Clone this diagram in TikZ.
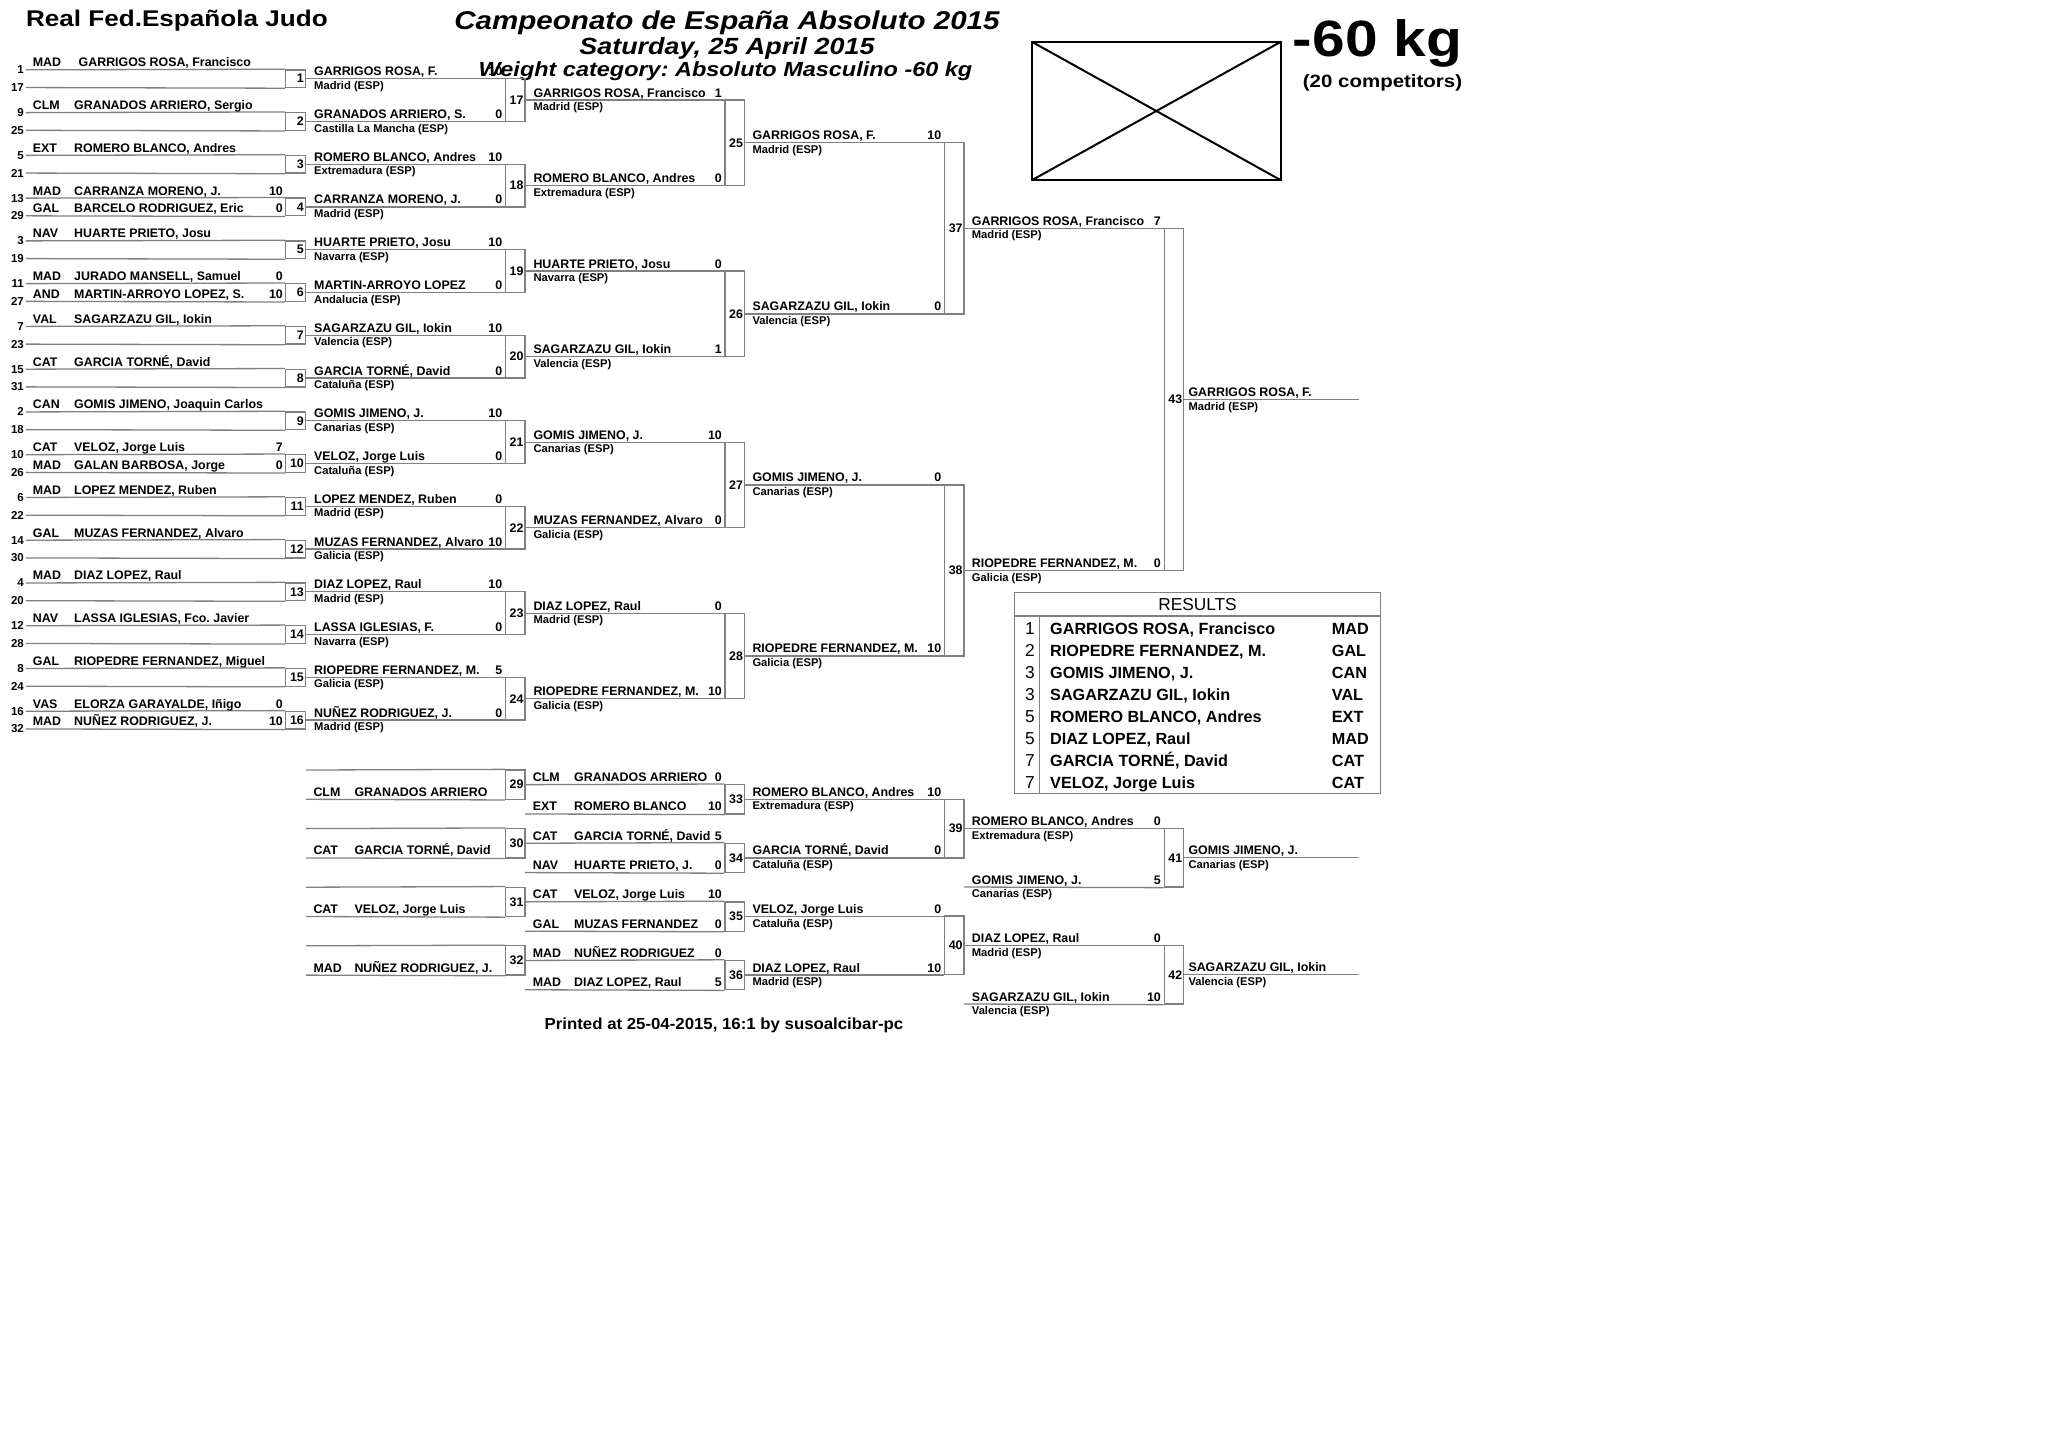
\documentclass[tikz,border=0pt]{standalone}
\usepackage{fontspec}
\setmainfont{Liberation Sans}
\usetikzlibrary{calc}
\definecolor{lgray}{RGB}{128,128,128}
\newcommand{\hsc}[2]{\scalebox{#1}[1]{#2}}
\frenchspacing
\begin{document}
\frenchspacing
\begin{tikzpicture}[x=1pt,y=-1pt,
  ln/.style={draw=lgray,line width=1.3pt},
  mbox/.style={draw=lgray,line width=1.3pt,minimum width=19.5pt,inner sep=0pt,text width=16.5pt,align=right,font=\fontsize{12.4}{13}\selectfont\bfseries},
  nm/.style={anchor=base west,inner sep=0pt,font=\fontsize{12.4}{13}\selectfont\bfseries},
  sc/.style={anchor=base east,inner sep=0pt,font=\fontsize{12.4}{13}\selectfont\bfseries},
  sb/.style={anchor=base west,inner sep=0pt,font=\fontsize{11.2}{12}\selectfont\bfseries},
  sd/.style={anchor=east,inner sep=0pt,font=\fontsize{11.5}{12}\selectfont\bfseries},
  rnum/.style={anchor=base east,inner sep=0pt,font=\fontsize{17.3}{18}\selectfont},
  rtxt/.style={anchor=base west,inner sep=0pt,font=\fontsize{16.2}{17}\selectfont\bfseries},
]
\fill[white] (0,0) rectangle (2048,1448);
\useasboundingbox (0,0) rectangle (2048,1448);

% ---------- headers ----------
\node[anchor=base west,inner sep=0pt,font=\fontsize{22.7}{24}\selectfont\bfseries] (hdr) at (25.8,26) {\hsc{1.15}{Real Fed.Española Judo}};
\node[anchor=base,inner sep=0pt,font=\fontsize{25.7}{27}\selectfont\bfseries\itshape] (ttl) at (727,29.3) {\hsc{1.15}{Campeonato de España Absoluto 2015}};
\node[anchor=base,inner sep=0pt,font=\fontsize{23.4}{25}\selectfont\bfseries\itshape] (dte) at (727,54.3) {\hsc{1.15}{Saturday, 25 April 2015}};
\node[anchor=base,inner sep=0pt,font=\fontsize{20.4}{22}\selectfont\bfseries\itshape] (wcat) at (725.5,76) {\hsc{1.15}{Weight category: Absoluto Masculino -60 kg}};
\node[anchor=base west,inner sep=0pt,font=\fontsize{51}{52}\selectfont\bfseries] (kg) at (1292.7,56.7) {\hsc{1.15}{-60 kg}};
\node[anchor=base west,inner sep=0pt,font=\fontsize{17.8}{19}\selectfont\bfseries] (comp) at (1302.7,87.3) {\hsc{1.15}{(20 competitors)}};
\draw[black,line width=2pt] (1031.7,41.7) rectangle (1281,180.3);
\draw[black,line width=2pt] (1031.7,41.7) -- (1281,180.3);
\draw[black,line width=2pt] (1031.7,180.3) -- (1281,41.7);

% ---------- match boxes ----------
\foreach \i/\ta/\tb [evaluate=\i as \yy using 78.7+42.76*(\i-1)] in
 {1/1/17,2/9/25,3/5/21,4/13/29,5/3/19,6/11/27,7/7/23,8/15/31,9/2/18,10/10/26,11/6/22,12/14/30,13/4/20,14/12/28,15/8/24,16/16/32}{
  \node[mbox,minimum height=17.7pt] (m\i) at (295.55,\yy) {\i};
  \node[sd] (sa\i) at (24,\yy-8.85) {\ta};
  \node[sd] (sb\i) at (24,\yy+8.85) {\tb};
  \draw[ln] ([xshift=1.8pt]sa\i.east) -- (m\i.north west);
  \draw[ln] ([xshift=1.8pt]sb\i.east) -- (m\i.south west);
}
\foreach \k [evaluate=\k as \yy using 78.7+42.76*(2*(\k-1)+0.5), evaluate=\k as \id using int(16+\k)] in {1,...,8}{
  \node[mbox,minimum height=42.76pt] (m\id) at (515.15,\yy) {\id};
}
\foreach \k [evaluate=\k as \yy using 78.7+42.76*(4*(\k-1)+1.5), evaluate=\k as \id using int(24+\k)] in {1,...,4}{
  \node[mbox,minimum height=85.52pt] (m\id) at (734.75,\yy) {\id};
}
\foreach \k [evaluate=\k as \yy using 78.7+42.76*(8*(\k-1)+3.5), evaluate=\k as \id using int(36+\k)] in {1,2}{
  \node[mbox,minimum height=171.04pt] (m\id) at (954.35,\yy) {\id};
}
\node[mbox,minimum height=342.08pt] (m43) at (1173.95,399.4) {43};

% ---------- round 1 names ----------
\foreach \i/\pcd/\pnm/\px [evaluate=\i as \yy using 78.7+42.76*(\i-1)-11.85] in
 {1/MAD/{GARRIGOS ROSA, Francisco}/78.5,2/CLM/{GRANADOS ARRIERO, Sergio}/74,3/EXT/{ROMERO BLANCO, Andres}/74,
  5/NAV/{HUARTE PRIETO, Josu}/74,7/VAL/{SAGARZAZU GIL, Iokin}/74,8/CAT/{GARCIA TORNÉ, David}/74,
  9/CAN/{GOMIS JIMENO, Joaquin Carlos}/74,11/MAD/{LOPEZ MENDEZ, Ruben}/74,12/GAL/{MUZAS FERNANDEZ, Alvaro}/74,
  13/MAD/{DIAZ LOPEZ, Raul}/74,14/NAV/{LASSA IGLESIAS, Fco. Javier}/74,15/GAL/{RIOPEDRE FERNANDEZ, Miguel}/74}{
  \node[nm] (ca\i) at (32.7,\yy) {\pcd};
  \node[nm] (na\i) at (\px,\yy) {\pnm};
}
\foreach \i/\pcd/\pnm/\psc/\qcd/\qnm/\qsc [evaluate=\i as \yy using 78.7+42.76*(\i-1)] in
 {4/MAD/{CARRANZA MORENO, J.}/10/GAL/{BARCELO RODRIGUEZ, Eric}/0,
  6/MAD/{JURADO MANSELL, Samuel}/0/AND/{MARTIN-ARROYO LOPEZ, S.}/10,
  10/CAT/{VELOZ, Jorge Luis}/7/MAD/{GALAN BARBOSA, Jorge}/0,
  16/VAS/{ELORZA GARAYALDE, Iñigo}/0/MAD/{NUÑEZ RODRIGUEZ, J.}/10}{
  \node[nm] (ca\i) at (32.7,\yy-11.85) {\pcd};
  \node[nm] (na\i) at (74,\yy-11.85) {\pnm};
  \node[sc] (xa\i) at (283,\yy-11.85) {\psc};
  \node[nm] (cb\i) at (32.7,\yy+5.85) {\qcd};
  \node[nm] (nb\i) at (74,\yy+5.85) {\qnm};
  \node[sc] (xb\i) at (283,\yy+5.85) {\qsc};
}

% ---------- round 2 lines ----------
\foreach \i/\pnm/\psc/\psub [evaluate=\i as \yy using 78.7+42.76*(\i-1), evaluate=\i as \j using int(16+ceil(\i/2))] in
 {1/{GARRIGOS ROSA, F.}/10/{Madrid (ESP)},2/{GRANADOS ARRIERO, S.}/0/{Castilla La Mancha (ESP)},
  3/{ROMERO BLANCO, Andres}/10/{Extremadura (ESP)},4/{CARRANZA MORENO, J.}/0/{Madrid (ESP)},
  5/{HUARTE PRIETO, Josu}/10/{Navarra (ESP)},6/{MARTIN-ARROYO LOPEZ}/0/{Andalucia (ESP)},
  7/{SAGARZAZU GIL, Iokin}/10/{Valencia (ESP)},8/{GARCIA TORNÉ, David}/0/{Cataluña (ESP)},
  9/{GOMIS JIMENO, J.}/10/{Canarias (ESP)},10/{VELOZ, Jorge Luis}/0/{Cataluña (ESP)},
  11/{LOPEZ MENDEZ, Ruben}/0/{Madrid (ESP)},12/{MUZAS FERNANDEZ, Alvaro}/10/{Galicia (ESP)},
  13/{DIAZ LOPEZ, Raul}/10/{Madrid (ESP)},14/{LASSA IGLESIAS, F.}/0/{Navarra (ESP)},
  15/{RIOPEDRE FERNANDEZ, M.}/5/{Galicia (ESP)},16/{NUÑEZ RODRIGUEZ, J.}/0/{Madrid (ESP)}}{
  \draw[ln] (m\i.east) -- (m\i.east -| m\j.west);
  \node[nm] (r2n\i) at (314,\yy-3) {\pnm};
  \node[sc] (r2s\i) at (502.4,\yy-3) {\psc};
  \node[sb] (r2b\i) at (314,\yy+10.6) {\psub};
}
% ---------- round 3 ----------
\foreach \k/\pnm/\psc/\psub [evaluate=\k as \yy using 78.7+42.76*(2*(\k-1)+0.5), evaluate=\k as \i using int(16+\k), evaluate=\k as \j using int(24+ceil(\k/2))] in
 {1/{GARRIGOS ROSA, Francisco}/1/{Madrid (ESP)},2/{ROMERO BLANCO, Andres}/0/{Extremadura (ESP)},
  3/{HUARTE PRIETO, Josu}/0/{Navarra (ESP)},4/{SAGARZAZU GIL, Iokin}/1/{Valencia (ESP)},
  5/{GOMIS JIMENO, J.}/10/{Canarias (ESP)},6/{MUZAS FERNANDEZ, Alvaro}/0/{Galicia (ESP)},
  7/{DIAZ LOPEZ, Raul}/0/{Madrid (ESP)},8/{RIOPEDRE FERNANDEZ, M.}/10/{Galicia (ESP)}}{
  \draw[ln] (m\i.east) -- (m\i.east -| m\j.west);
  \node[nm] (r3n\k) at (533.3,\yy-3) {\pnm};
  \node[sc] (r3s\k) at (722,\yy-3) {\psc};
  \node[sb] (r3b\k) at (533.3,\yy+10.6) {\psub};
}
% ---------- round 4 ----------
\foreach \k/\pnm/\psc/\psub [evaluate=\k as \yy using 78.7+42.76*(4*(\k-1)+1.5), evaluate=\k as \i using int(24+\k), evaluate=\k as \j using int(36+ceil(\k/2))] in
 {1/{GARRIGOS ROSA, F.}/10/{Madrid (ESP)},2/{SAGARZAZU GIL, Iokin}/0/{Valencia (ESP)},
  3/{GOMIS JIMENO, J.}/0/{Canarias (ESP)},4/{RIOPEDRE FERNANDEZ, M.}/10/{Galicia (ESP)}}{
  \draw[ln] (m\i.east) -- (m\i.east -| m\j.west);
  \node[nm] (r4n\k) at (752.3,\yy-3) {\pnm};
  \node[sc] (r4s\k) at (941.4,\yy-3) {\psc};
  \node[sb] (r4b\k) at (752.3,\yy+10.6) {\psub};
}
% ---------- round 5 ----------
\foreach \k/\pnm/\psc/\psub [evaluate=\k as \yy using 78.7+42.76*(8*(\k-1)+3.5), evaluate=\k as \i using int(36+\k)] in
 {1/{GARRIGOS ROSA, Francisco}/7/{Madrid (ESP)},2/{RIOPEDRE FERNANDEZ, M.}/0/{Galicia (ESP)}}{
  \draw[ln] (m\i.east) -- (m\i.east -| m43.west);
  \node[nm] (r5n\k) at (971.7,\yy-3) {\pnm};
  \node[sc] (r5s\k) at (1161,\yy-3) {\psc};
  \node[sb] (r5b\k) at (971.7,\yy+10.6) {\psub};
}
\coordinate (fin) at (1358.7,399.4);
\draw[ln] (m43.east) -- (fin);
\node[nm] (r6n) at (1188.3,396.4) {GARRIGOS ROSA, F.};
\node[sb] (r6b) at (1188.3,410) {Madrid (ESP)};

% ---------- repechage ----------
\foreach \k/\pcd/\pnm [evaluate=\k as \yt using 770+58.6*\k, evaluate=\k as \id using int(29+\k)] in
 {0/CLM/{GRANADOS ARRIERO},1/CAT/{GARCIA TORNÉ, David},2/CAT/{VELOZ, Jorge Luis},3/MAD/{NUÑEZ RODRIGUEZ, J.}}{
  \node[mbox,minimum height=29.3pt] (m\id) at (515.15,\yt+14.65) {\id};
  \coordinate (pa\id) at (306,\yt);
  \coordinate (pb\id) at (306,\yt+29.3);
  \draw[ln] (pa\id) -- (m\id.north west);
  \draw[ln] (pb\id) -- (m\id.south west);
  \node[nm] (rc\id) at (313.3,\yt+26.3) {\pcd};
  \node[nm] (rn\id) at (354.3,\yt+26.3) {\pnm};
}
\foreach \k/\pcd/\pnm/\psc/\qcd/\qnm/\qsc [evaluate=\k as \yt using 784.65+58.6*\k, evaluate=\k as \id using int(33+\k), evaluate=\k as \ia using int(29+\k)] in
 {0/CLM/{GRANADOS ARRIERO}/0/EXT/{ROMERO BLANCO}/10,
  1/CAT/{GARCIA TORNÉ, David}/5/NAV/{HUARTE PRIETO, J.}/0,
  2/CAT/{VELOZ, Jorge Luis}/10/GAL/{MUZAS FERNANDEZ}/0,
  3/MAD/{NUÑEZ RODRIGUEZ}/0/MAD/{DIAZ LOPEZ, Raul}/5}{
  \node[mbox,minimum height=29.3pt] (m\id) at (734.75,\yt+14.65) {\id};
  \draw[ln] (m\ia.east) -- (m\id.north west);
  \coordinate (qb\id) at (524.9,\yt+29.3);
  \draw[ln] (qb\id) -- (m\id.south west);
  \node[nm] (qca\id) at (532.7,\yt-3) {\pcd};
  \node[nm] (qna\id) at (574,\yt-3) {\pnm};
  \node[sc] (qsa\id) at (722,\yt-3) {\psc};
  \node[nm] (qcb\id) at (532.7,\yt+26.3) {\qcd};
  \node[nm] (qnb\id) at (574,\yt+26.3) {\qnm};
  \node[sc] (qsb\id) at (722,\yt+26.3) {\qsc};
}
\node[mbox,minimum height=58.6pt] (m39) at (954.35,828.6) {39};
\node[mbox,minimum height=58.6pt] (m40) at (954.35,945.4) {40};
\foreach \i/\j/\pnm/\psc/\psub [evaluate=\i as \yy using 799.3+58.6*(\i-33)] in
 {33/39/{ROMERO BLANCO, Andres}/10/{Extremadura (ESP)},34/39/{GARCIA TORNÉ, David}/0/{Cataluña (ESP)},
  35/40/{VELOZ, Jorge Luis}/0/{Cataluña (ESP)},36/40/{DIAZ LOPEZ, Raul}/10/{Madrid (ESP)}}{
  \draw[ln] (m\i.east) -- (m\i.east -| m\j.west);
  \node[nm] (tn\i) at (752.3,\yy-3) {\pnm};
  \node[sc] (ts\i) at (941.4,\yy-3) {\psc};
  \node[sb] (tb\i) at (752.3,\yy+10.6) {\psub};
}
\node[mbox,minimum height=58.4pt] (m41) at (1173.95,857.8) {41};
\node[mbox,minimum height=58.6pt] (m42) at (1173.95,974.7) {42};
\draw[ln] (m39.east) -- (m39.east -| m41.west);
\draw[ln] (m40.east) -- (m40.east -| m42.west);
\coordinate (g41) at (964.1,887);
\coordinate (g42) at (964.1,1004);
\draw[ln] (g41) -- (m41.south west);
\draw[ln] (g42) -- (m42.south west);
\foreach \yy/\pnm/\psc/\psub [count=\c] in
 {828.6/{ROMERO BLANCO, Andres}/0/{Extremadura (ESP)},887/{GOMIS JIMENO, J.}/5/{Canarias (ESP)},
  945.4/{DIAZ LOPEZ, Raul}/0/{Madrid (ESP)},1004/{SAGARZAZU GIL, Iokin}/10/{Valencia (ESP)}}{
  \node[nm] (un\c) at (971.7,\yy-3) {\pnm};
  \node[sc] (us\c) at (1161,\yy-3) {\psc};
  \node[sb] (ub\c) at (971.7,\yy+10.6) {\psub};
}
\coordinate (f41) at (1358.7,857.8);
\coordinate (f42) at (1358.7,974.7);
\draw[ln] (m41.east) -- (f41);
\draw[ln] (m42.east) -- (f42);
\node[nm] (vn41) at (1188.3,854.8) {GOMIS JIMENO, J.};
\node[sb] (vb41) at (1188.3,868.4) {Canarias (ESP)};
\node[nm] (vn42) at (1188.3,971.7) {SAGARZAZU GIL, Iokin};
\node[sb] (vb42) at (1188.3,985.3) {Valencia (ESP)};

\node[anchor=base,inner sep=0pt,font=\fontsize{16}{17}\selectfont\bfseries] (prt) at (724,1029.3) {\hsc{1.05}{Printed at 25-04-2015, 16:1 by susoalcibar-pc}};

% ---------- results ----------
\draw[ln] (1014.3,592.3) rectangle (1380.7,793.3);
\draw[ln] (1014.3,616) -- (1380.7,616);
\draw[ln] (1039.3,616) -- (1039.3,793.3);
\node[anchor=base,inner sep=0pt,font=\fontsize{17.3}{18}\selectfont] (rhd) at (1197.5,610.7) {RESULTS};
\foreach \p/\pnm/\pcd [count=\r, evaluate=\r as \yy using 634.3+22*(\r-1)] in
 {1/{GARRIGOS ROSA, Francisco}/MAD,2/{RIOPEDRE FERNANDEZ, M.}/GAL,3/{GOMIS JIMENO, J.}/CAN,
  3/{SAGARZAZU GIL, Iokin}/VAL,5/{ROMERO BLANCO, Andres}/EXT,5/{DIAZ LOPEZ, Raul}/MAD,
  7/{GARCIA TORNÉ, David}/CAT,7/{VELOZ, Jorge Luis}/CAT}{
  \node[rnum] (rp\r) at (1035,\yy) {\p};
  \node[rtxt] (rn\r) at (1050,\yy) {\pnm};
  \node[rtxt] (rk\r) at (1331.7,\yy) {\pcd};
}
\end{tikzpicture}
\end{document}
